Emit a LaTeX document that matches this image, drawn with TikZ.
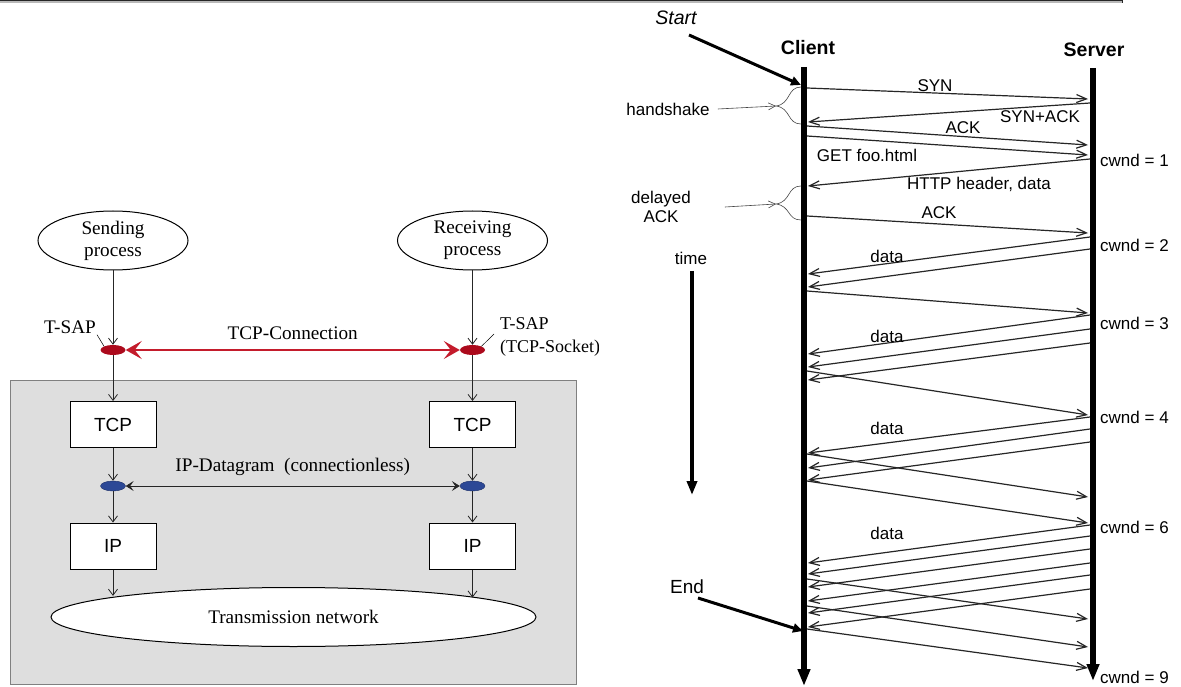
\documentclass[tikz,border=0pt]{standalone}
\usepackage{fontspec}
\newfontfamily\arialfont{Liberation Sans}
\newfontfamily\stackfont{Liberation Serif}
\usetikzlibrary{arrows.meta,shapes.geometric}
\definecolor{sapred}{RGB}{172,10,28}
\definecolor{linkred}{RGB}{196,28,44}
\definecolor{ipblue}{RGB}{44,72,150}
\definecolor{panelgrey}{RGB}{222,222,222}
\definecolor{paneledge}{RGB}{128,128,128}
\tikzset{
  serif/.style={font=\stackfont\fontsize{19.2}{22}\selectfont},
  sanslbl/.style={font=\arialfont\fontsize{17}{20}\selectfont, inner sep=0pt},
  headlbl/.style={font=\arialfont\bfseries\fontsize{19.5}{22}\selectfont, inner sep=0pt},
  process/.style={ellipse, draw, line width=1pt, fill=white, minimum width=150pt,
    minimum height=59pt, serif, align=center, inner sep=0pt},
  layerbox/.style={draw, line width=1pt, fill=white, minimum width=86pt,
    minimum height=46pt, font=\arialfont\fontsize{19}{22}\selectfont},
  sap/.style={ellipse, fill=sapred, minimum width=25pt, minimum height=10pt, inner sep=0pt},
  ipsap/.style={ellipse, fill=ipblue, draw=ipblue!70!black, line width=0.4pt,
    minimum width=25pt, minimum height=10pt, inner sep=0pt},
  downarrow/.style={line width=0.8pt, black!85, -{Straight Barb[length=6pt,width=9pt]}},
  msg/.style={line width=1.2pt, black!85, -{Straight Barb[length=10pt,width=8pt]}},
  lifeline/.style={line width=5.5pt, -{Triangle[length=17pt,width=12pt]}},
  pointer/.style={line width=3pt, -{Triangle[length=10pt,width=9pt]}},
  note/.style={gray!55!black, line width=0.6pt},
}
\begin{document}
\begin{tikzpicture}[x=1pt,y=-1pt]
\useasboundingbox (0,0) rectangle (1181,687);
\fill[white] (0,0) rectangle (1181,687);

% frame edge along the top
\fill[gray!55] (0,0) rectangle (1122,3);
\draw[gray!30!black, line width=1pt] (0,0.5) -- (1122,0.5) -- (1122,3);

% ---------------- protocol stack ----------------
\begin{scope}
\clip (0,0) rectangle (598,687);
\draw[fill=panelgrey, draw=paneledge, line width=1pt] (10,380) rectangle (576,684);

\node[process] (snd) at (113,240.5) {Sending\\process};
\node[process] (rcv) at (472.5,240.5) {Receiving\\process};
\node[sap] (sapL) at (113,350) {};
\node[sap] (sapR) at (472.5,350) {};
\node[layerbox] (tcpL) at (113,424.5) {TCP};
\node[layerbox] (tcpR) at (472.5,424.5) {TCP};
\node[ipsap] (ipL) at (113,486) {};
\node[ipsap] (ipR) at (472.5,486) {};
\node[layerbox] (ipbL) at (113,546) {IP};
\node[layerbox] (ipbR) at (472.5,546) {IP};
\node[ellipse, draw, fill=white, line width=1pt, minimum width=485pt,
  minimum height=59pt, serif] (net) at (293.5,617) {Transmission network};

\draw[downarrow] (snd.south) -- (sapL.north);
\draw[downarrow] (rcv.south) -- (sapR.north);
\draw[downarrow] (sapL.south) -- (tcpL.north);
\draw[downarrow] (sapR.south) -- (tcpR.north);
\draw[downarrow] (tcpL.south) -- (ipL.north);
\draw[downarrow] (tcpR.south) -- (ipR.north);
\draw[downarrow] (ipL.south) -- (ipbL.north);
\draw[downarrow] (ipR.south) -- (ipbR.north);
\draw[downarrow] (ipbL.south) -- (ipbL.south |- net.173.8);
\draw[downarrow] (ipbR.south) -- (ipbR.south |- net.6.2);

\draw[line width=2pt, linkred,
  {Stealth[length=16pt,width=18pt,inset=7pt]}-{Stealth[length=16pt,width=18pt,inset=7pt]}]
  (sapL.east) -- node[above=6pt, black, serif] (tcpconn) {TCP-Connection} (sapR.west);
\draw[line width=0.8pt, black!85,
  {Stealth[length=8pt,width=10pt,inset=3.5pt]}-{Stealth[length=8pt,width=10pt,inset=3.5pt]}]
  (ipL.east) -- node[above=7pt, black, serif] (ipdg) {IP-Datagram\ \ (connectionless)} (ipR.west);

\node[serif, inner sep=1pt] (tsapL) at (70,327) {T-SAP};
\draw[line width=0.5pt] (tsapL.south east) -- (sapL.north west);
\node[anchor=north west, align=left, inner sep=0pt,
  font=\stackfont\fontsize{18}{23}\selectfont] (tsapR) at (500,317) {T-SAP\\(TCP-Socket)};
\coordinate (tsapRlead) at (494,334);
\draw[line width=0.5pt] (sapR.north east) -- (tsapRlead);
\end{scope}

% ---------------- message sequence ----------------
\node[headlbl] (client) at (808,48) {Client};
\node[headlbl] (server) at (1094,50) {Server};
\coordinate (ctop) at (804,67);
\coordinate (cbot) at (804,686);
\coordinate (stop) at (1093,68);
\coordinate (sbot) at (1093,681);
\draw[lifeline] (ctop) -- (cbot);
\draw[lifeline] (stop) -- (sbot);

% client -> server segments
\foreach \n/\a/\b in {1/88/99, 3/126/145, 4/136/155, 6/216/233, 9/291/313,
    13/371/415, 17/454/497, 18/481/523, 25/579/619, 26/606/647, 27/629/668}{
  \coordinate (c\n) at (807,\a);
  \coordinate (s\n) at (1088,\b);
  \draw[msg] (c\n) -- (s\n);
}
% server -> client segments
\foreach \n/\a/\b in {2/103/122, 5/159/186, 7/237/274, 8/249/287, 10/315/354,
    11/329/367, 12/343/380, 14/417/453, 15/429/468, 16/442/480, 19/525/563,
    20/536/574, 21/549/587, 22/563/601, 23/575/613, 24/589/627}{
  \coordinate (s\n) at (1090,\a);
  \coordinate (c\n) at (808,\b);
  \draw[msg] (s\n) -- (c\n);
}

\node[sanslbl] (lsyn) at (935,86) {SYN};
\node[sanslbl] (lsynack) at (1040,117) {SYN+ACK};
\node[sanslbl] (lack1) at (963,128) {ACK};
\node[sanslbl] (lget) at (867,155) {GET foo.html};
\node[sanslbl] (lhttp) at (979,184) {HTTP header, data};
\node[sanslbl] (lack2) at (939,213) {ACK};
\node[sanslbl] (ld1) at (887,256) {data};
\node[sanslbl] (ld2) at (887,336) {data};
\node[sanslbl] (ld3) at (887,428) {data};
\node[sanslbl] (ld4) at (887,533) {data};

\foreach \k/\y in {1/160, 2/245, 3/323, 4/417, 6/527, 9/677}{
  \node[sanslbl, anchor=west] (cw\k) at (1100,\y) {cwnd = \k};
}

% start and end markers
\node[font=\arialfont\itshape\fontsize{19.5}{22}\selectfont, inner sep=0pt] (start) at (676,18) {Start};
\coordinate (starttail) at (689,35);
\coordinate (starttip) at (801,85);
\draw[pointer] (starttail) -- (starttip);
\node[font=\arialfont\fontsize{19}{22}\selectfont, inner sep=0pt] (end) at (687,587) {End};
\coordinate (endtail) at (698,598);
\coordinate (endtip) at (803,631);
\draw[pointer] (endtail) -- (endtip);

% time axis
\node[sanslbl] (time) at (691,258) {time};
\coordinate (timetop) at (692,271);
\coordinate (timetip) at (692,495);
\draw[line width=4pt, -{Triangle[length=14pt,width=10pt]}] (timetop) -- (timetip);

% handshake and delayed ACK annotations
\node[sanslbl] (hs) at (668,109) {handshake};
\coordinate (hsbrace) at (776,106);
\draw[note] (801,87) .. controls (787,87) and (791,104) .. (hsbrace)
  .. controls (791,108) and (787,124) .. (801,124);
\draw[note, -{Straight Barb[length=7pt,width=7pt]}] ([xshift=8pt]hs.east) -- (hsbrace);

\node[sanslbl, align=center, font=\arialfont\fontsize{17}{19}\selectfont] (dack) at (661,207) {delayed\\ACK};
\coordinate (dabrace) at (776,204);
\draw[note] (801,186) .. controls (787,186) and (791,202) .. (dabrace)
  .. controls (791,206) and (787,220) .. (801,220);
\draw[note, -{Straight Barb[length=7pt,width=7pt]}] ([xshift=34pt]dack.east) -- (dabrace);
\end{tikzpicture}
\end{document}
